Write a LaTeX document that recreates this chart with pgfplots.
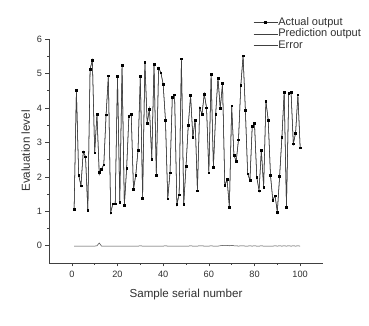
\documentclass[border=0pt]{standalone}
\usepackage{pgfplots}
\pgfplotsset{compat=1.18}
\usepackage{pgfplotstable}
\usepackage{fontspec}
\setmainfont{Liberation Sans}

\definecolor{ln}{HTML}{404040}
\definecolor{txt}{HTML}{303030}

% sample, actual, prediction, error
\pgfplotstableread{
x a p e
1 1.05 1.06 -0.01
2 4.52 4.53 -0.01
3 2.04 2.05 -0.01
4 1.74 1.75 -0.01
5 2.73 2.74 -0.01
6 2.58 2.59 -0.01
7 1.02 1.03 -0.01
8 5.13 5.14 -0.01
9 5.38 5.39 -0.01
10 2.70 2.71 -0.01
11 3.82 3.82 0.00
12 2.14 2.06 0.08
13 2.22 2.23 -0.01
14 2.35 2.36 -0.01
15 3.80 3.81 -0.01
16 4.93 4.94 -0.01
17 0.96 0.97 -0.01
18 1.22 1.23 -0.01
19 1.22 1.23 -0.01
20 4.92 4.93 -0.01
21 1.27 1.28 -0.01
22 5.23 5.24 -0.01
23 1.17 1.18 -0.01
24 2.24 2.25 -0.01
25 3.76 3.77 -0.01
26 3.82 3.83 -0.01
27 1.63 1.64 -0.01
28 2.05 2.06 -0.01
29 2.78 2.79 -0.01
30 4.92 4.92 0.00
31 1.38 1.39 -0.01
32 5.33 5.34 -0.01
33 3.55 3.56 -0.01
34 3.97 3.98 -0.01
35 2.52 2.53 -0.01
36 5.27 5.28 -0.01
37 2.05 2.06 -0.01
38 5.16 5.17 -0.01
39 5.02 5.03 -0.01
40 4.68 4.69 -0.01
41 3.65 3.65 0.00
42 1.36 1.37 -0.01
43 2.12 2.13 -0.01
44 4.30 4.31 -0.01
45 4.38 4.39 -0.01
46 1.20 1.21 -0.01
47 1.48 1.49 -0.01
48 5.43 5.44 -0.01
49 1.20 1.21 -0.01
50 2.30 2.31 -0.01
51 3.50 3.51 -0.01
52 4.36 4.36 0.00
53 3.15 3.16 -0.01
54 3.65 3.66 -0.01
55 1.60 1.61 -0.01
56 4.00 4.00 0.00
57 3.82 3.82 0.00
58 4.40 4.41 -0.01
59 4.00 4.01 -0.01
60 2.12 2.13 -0.01
61 4.98 4.98 0.00
62 2.27 2.28 -0.01
63 3.82 3.83 -0.01
64 4.87 4.88 -0.01
65 3.98 3.98 0.00
66 4.72 4.71 0.01
67 1.75 1.74 0.01
68 1.92 1.91 0.01
69 1.12 1.12 0.00
70 4.06 4.05 0.01
71 2.62 2.62 0.00
72 2.46 2.46 0.00
73 3.08 3.09 -0.01
74 4.65 4.65 0.00
75 5.51 5.51 0.00
76 3.93 3.94 -0.01
77 2.09 2.10 -0.01
78 1.90 1.90 0.00
79 3.46 3.47 -0.01
80 3.55 3.55 0.00
81 1.98 1.99 -0.01
82 1.60 1.61 -0.01
83 2.77 2.77 0.00
84 1.70 1.71 -0.01
85 4.19 4.20 -0.01
86 3.65 3.66 -0.01
87 2.04 2.05 -0.01
88 1.33 1.34 -0.01
89 1.45 1.45 0.00
90 0.98 0.99 -0.01
91 2.02 2.02 0.00
92 3.15 3.16 -0.01
93 4.46 4.46 0.00
94 1.12 1.13 -0.01
95 4.43 4.43 0.00
96 4.46 4.47 -0.01
97 2.96 2.96 0.00
98 3.27 3.28 -0.01
99 4.38 4.38 0.00
100 2.84 2.85 -0.01
}\data

\begin{document}
\begin{tikzpicture}
\useasboundingbox (-49pt,-63pt) rectangle (320pt,263pt);
\begin{axis}[
    scale only axis,
    width=274pt, height=224pt,
    axis lines*=left,
    xmin=-10, xmax=110,
    ymin=-0.5, ymax=6,
    xtick={0,20,...,100},
    ytick={0,1,...,6},
    minor x tick num=1,
    minor y tick num=1,
    tick align=outside,
    major tick length=3.5pt,
    minor tick length=2pt,
    every tick/.style={ln, line width=0.6pt},
    axis line style={ln, line width=0.7pt},
    tick label style={font=\fontsize{9.2}{11}\selectfont, text=txt},
    xticklabel style={yshift=-1.5pt},
    /pgf/number format/assume math mode=true,
    xlabel={Sample serial number},
    ylabel={Evaluation level},
    label style={font=\fontsize{11.6}{13}\selectfont, text=txt},
    xlabel style={yshift=-4pt},
    ylabel style={yshift=0pt},
    legend style={at={(rel axis cs:0.745,1.1)}, anchor=north west,
        draw=none, fill=none, font=\fontsize{11}{12}\selectfont, text=txt,
        row sep=0pt, inner sep=0pt,
        nodes={inner sep=0.5pt, text height=8pt, text depth=2.5pt}},
    legend cell align=left,
    legend image code/.code={\draw[mark repeat=2,mark phase=2,#1]
        plot coordinates {(0pt,0pt) (12pt,0pt) (24pt,0pt)};},
]
\addplot[ln, line width=0.55pt, mark=square*, mark size=0.85pt,
    mark options={black, solid}] table[x=x, y=a] {\data};
\addlegendentry{Actual output}
\addplot[ln, line width=0.5pt] table[x=x, y=p] {\data};
\addlegendentry{Prediction output}
\addplot[ln, line width=0.5pt] table[x=x, y=e] {\data};
\addlegendentry{Error}
\end{axis}
\end{tikzpicture}
\end{document}
